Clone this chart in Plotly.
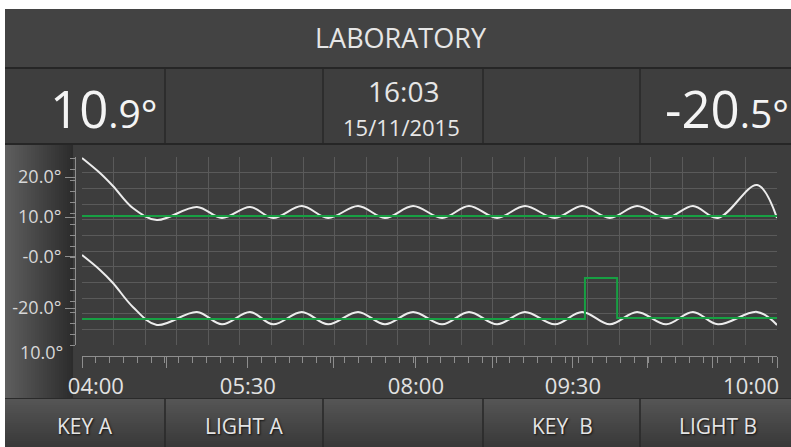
import plotly.graph_objects as go

W, H = 791, 447

# ---------------- data (grid units: x 0..22 columns, y 0..12 rows) ----------------
top_x = [0, 0.57, 0.98, 1.61, 2.37, 3.64, 4.43, 5.32, 6.05, 6.96, 7.79, 8.74, 9.59,
         10.48, 11.40, 12.25, 13.14, 14.02, 14.97, 15.83, 16.71, 17.57, 18.49, 19.34,
         20.13, 21.37, 22.0]
top_y = [11.94, 10.98, 10.15, 8.74, 7.98, 8.81, 8.11, 8.81, 8.11, 8.87, 8.11, 8.87, 8.11,
         8.87, 8.11, 8.87, 8.11, 8.87, 8.11, 8.87, 8.11, 8.87, 8.11, 8.87,
         8.11, 10.21, 8.11]
bot_x = top_x
bot_y = [5.74, 4.79, 3.96, 2.43, 1.28, 2.11, 1.32, 2.11, 1.32, 2.11, 1.32, 2.11, 1.32,
         2.11, 1.32, 2.11, 1.32, 2.11, 1.32, 2.11, 1.32, 2.11, 1.32, 2.11,
         1.32, 2.11, 1.28]
set_top_x = [0, 22]
set_top_y = [8.23, 8.23]
set_bot_x = [0, 15.92, 16.94, 22]
set_bot_y = [1.66, 4.28, 1.72, 1.72]

y_tick_vals = [10.72, 8.17, 5.62, 2.36]
y_tick_text = ["20.0°", "10.0°", "-0.0°", "-20.0°"]
x_major_ticks = [0, 2.69, 5.25, 7.95, 10.57, 12.98, 15.54, 17.89, 19.97, 22]
x_label_vals = [0.44, 5.25, 10.57, 15.54, 21.18]
x_label_text = ["04:00", "05:30", "08:00", "09:30", "10:00"]

title = "LABORATORY"
temp_a, temp_a_dec = "10", ".9°"
temp_b, temp_b_dec = "-20", ".5°"
clock, date = "16:03", "15/11/2015"
buttons = ["KEY A", "LIGHT A", "", "KEY\u00a0 B", "LIGHT B"]

FONT = "Open Sans"


def px(x):
    return x / W


def py(y):
    return 1 - y / H


shapes = []


def rect(x0, y0, x1, y1, color, layer="below"):
    shapes.append(dict(type="rect", xref="paper", yref="paper", x0=px(x0), x1=px(x1),
                       y0=py(y1), y1=py(y0), fillcolor=color, line_width=0, layer=layer))


def mix(c0, c1, t):
    a = [int(c0[i:i + 2], 16) for i in (1, 3, 5)]
    b = [int(c1[i:i + 2], 16) for i in (1, 3, 5)]
    return "#" + "".join("%02x" % round(a[k] + (b[k] - a[k]) * t) for k in range(3))


# header
rect(5, 9, W, 67, "#434343")
rect(5, 67, W, 69, "#262626")
# info row
rect(5, 69, W, 143, "#3e3e3e")
for sx in (165, 323, 483, 640):
    rect(sx - 0.8, 69, sx + 0.8, 143, "#2a2a2a")
rect(5, 143, W, 145, "#262626")
# chart panel
rect(5, 145, W, 398, "#3d3d3d")
n = 34
for i in range(n):
    x0 = 5 + i * 2
    rect(x0, 145, x0 + 2.05, 398, mix("#5e5e5e", "#2c2c2c", i / (n - 1)))
# buttons
rect(5, 398, W, 399, "#2a2a2a")
m = 24
for i in range(m):
    y0 = 399 + i * 2
    rect(5, y0, W, y0 + 2.05, mix("#555555", "#393939", i / (m - 1)))
for sx in (165, 323, 483, 640):
    rect(sx - 0.8, 399, sx + 0.8, H, "#2a2a2a")

annotations = []


def text(x, y, s, size, color="#e6e6e6", xanchor="center", shadow=None):
    font = dict(family=FONT, size=size, color=color)
    if shadow:
        font["shadow"] = shadow
    annotations.append(dict(xref="paper", yref="paper", x=px(x), y=py(y), text=s,
                            showarrow=False, xanchor=xanchor, yanchor="middle", font=font))


text(401, 37, title, 27)
text(160, 108, temp_a + "<span style='font-size:39px'>" + temp_a_dec + "</span>", 51,
     color="#f4f4f4", xanchor="right")
text(791, 108, temp_b + "<span style='font-size:39px'>" + temp_b_dec + "</span>", 51,
     color="#f4f4f4", xanchor="right")
text(403, 91, clock, 28)
text(401, 127, date, 22)
for cx, b in zip((85, 244, 403, 562, 718), buttons):
    if b:
        text(cx, 426, b, 21, color="#e4e4e4", shadow="1px 1px 2px #111")
text(41, 352, "10.0°", 18, color="#d8d8d8")

fig = go.Figure()
fig.add_trace(go.Scatter(x=top_x, y=top_y, mode="lines", xaxis="x", yaxis="y",
                         line=dict(color="#ececec", width=2, shape="spline", smoothing=1.0),
                         hoverinfo="skip"))
fig.add_trace(go.Scatter(x=bot_x, y=bot_y, mode="lines", xaxis="x", yaxis="y2",
                         line=dict(color="#ececec", width=2, shape="spline", smoothing=1.0),
                         hoverinfo="skip"))
fig.add_trace(go.Scatter(x=set_top_x, y=set_top_y, mode="lines", xaxis="x2", yaxis="y",
                         line=dict(color="#17a043", width=2), hoverinfo="skip"))
fig.add_trace(go.Scatter(x=set_bot_x, y=set_bot_y, mode="lines", xaxis="x3", yaxis="y",
                         line=dict(color="#17a043", width=2, shape="hv"), hoverinfo="skip"))

grid = "#5a5a5a"
axc = "#8e8e8e"
fig.update_layout(
    width=W, height=H, margin=dict(l=0, r=0, t=0, b=0, pad=0, autoexpand=False),
    paper_bgcolor="#ffffff", plot_bgcolor="rgba(0,0,0,0)", showlegend=False,
    shapes=shapes, annotations=annotations, hovermode=False,
    xaxis=dict(domain=[px(82), px(777)], range=[0, 22], dtick=1, tick0=0, showgrid=True,
               gridcolor=grid, gridwidth=1, showticklabels=False, zeroline=False,
               showline=False, ticks="", fixedrange=True, automargin=False),
    yaxis=dict(domain=[py(345), py(157)], range=[0, 12], dtick=1, tick0=0, showgrid=True,
               gridcolor=grid, gridwidth=1, showticklabels=False, zeroline=False,
               showline=False, ticks="", fixedrange=True, automargin=False),
    yaxis2=dict(overlaying="y", anchor="free", position=px(75), side="left", range=[0, 12],
                showgrid=False, zeroline=False, showline=True, linecolor=axc, linewidth=1,
                ticks="outside", ticklen=10, tickcolor=axc, tickmode="array",
                tickvals=y_tick_vals, ticktext=y_tick_text, automargin=False,
                tickfont=dict(family=FONT, size=18, color="#d8d8d8"),
                minor=dict(dtick=0.7, tick0=0, ticklen=5, tickcolor=axc, ticks="outside")),
    xaxis2=dict(overlaying="x", anchor="free", position=py(356), side="bottom", range=[0, 22],
                showgrid=False, zeroline=False, showline=True, linecolor=axc, linewidth=1,
                ticks="outside", ticklen=11, tickcolor=axc, tickmode="array",
                tickvals=x_major_ticks, ticktext=[""] * len(x_major_ticks), automargin=False,
                minor=dict(dtick=0.437, tick0=0, ticklen=6, tickcolor=axc, ticks="outside")),
    xaxis3=dict(overlaying="x", anchor="free", position=py(371), side="bottom", range=[0, 22],
                showgrid=False, zeroline=False, showline=False, ticks="", tickmode="array",
                tickvals=x_label_vals, ticktext=x_label_text, automargin=False,
                tickfont=dict(family=FONT, size=22, color="#e2e2e2")),
)

fig.write_html(
    "out.html",
    config={"displayModeBar": False, "staticPlot": True},
    post_script=(
        "document.documentElement.style.margin='0';"
        "document.body.style.margin='0';document.body.style.overflow='hidden';"
    ),
)
